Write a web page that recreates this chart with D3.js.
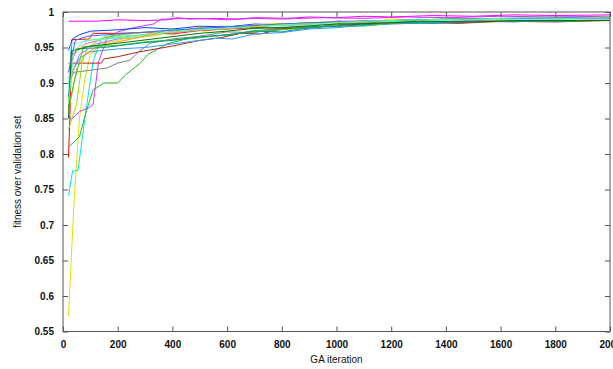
<!DOCTYPE html>
<html><head><meta charset="utf-8">
<script src="https://cdn.jsdelivr.net/npm/d3@7"></script>
<style>body{margin:0;background:#fff}svg{display:block}</style>
</head><body><svg id="c" width="613" height="369"></svg>
<script>
// tick labels
const xTicks = [0,200,400,600,800,1000,1200,1400,1600,1800,2000];
const yTicks = [0.55,0.6,0.65,0.7,0.75,0.8,0.85,0.9,0.95,1];
// series: [GA iteration, fitness over validation set]
const s01=[[20,.987],[120,.987],[200,.989],[300,.988],[380,.989],[420,.992],[460,.99],[560,.991],[640,.99],[700,.992],[820,.991],[900,.993],[1000,.992],[1100,.994],[1200,.993],[1350,.995],[1500,.994],[1650,.996],[1800,.995],[2000,.996]];
const s02=[[20,.572],[40,.73],[60,.85],[80,.905],[100,.94],[140,.955],[220,.962],[320,.966],[450,.975],[520,.973],[600,.98],[700,.978],[800,.984],[900,.982],[1000,.986],[1100,.985],[1200,.99],[1350,.988],[1500,.991],[1650,.989],[1800,.993],[2000,.992]];
const s03=[[20,.741],[35,.776],[55,.777],[80,.85],[110,.93],[140,.963],[220,.968],[300,.966],[400,.976],[500,.974],[600,.98],[700,.977],[800,.983],[880,.979],[950,.98],[1000,.987],[1150,.985],[1300,.99],[1450,.988],[1600,.99],[1750,.992],[2000,.991]];
const s04=[[20,.795],[25,.85],[32,.961],[95,.962],[110,.97],[200,.97],[300,.971],[400,.969],[500,.974],[600,.976],[700,.978],[800,.977],[900,.982],[1000,.984],[1100,.986],[1250,.984],[1400,.988],[1550,.987],[1700,.989],[1850,.988],[2000,.989]];
const s05=[[20,.81],[60,.824],[85,.86],[110,.89],[150,.9],[200,.9],[230,.912],[280,.927],[310,.94],[380,.955],[450,.962],[550,.966],[620,.968],[700,.974],[800,.976],[900,.98],[1000,.979],[1100,.984],[1200,.986],[1300,.988],[1450,.986],[1600,.989],[1800,.988],[2000,.99]];
const s06=[[20,.855],[30,.848],[60,.86],[90,.864],[110,.87],[130,.93],[160,.962],[200,.972],[260,.978],[330,.983],[360,.99],[500,.991],[600,.989],[700,.991],[800,.99],[950,.992],[1100,.991],[1250,.993],[1400,.992],[1600,.994],[1800,.993],[2000,.994]];
const s07=[[20,.9],[40,.915],[160,.921],[200,.928],[245,.932],[280,.945],[318,.956],[400,.962],[500,.966],[600,.972],[700,.971],[800,.978],[900,.977],[1000,.982],[1150,.984],[1300,.986],[1450,.985],[1600,.988],[1800,.989],[2000,.99]];
const s08=[[20,.928],[140,.928],[150,.934],[200,.937],[280,.944],[400,.952],[500,.96],[580,.964],[650,.97],[720,.969],[800,.976],[900,.978],[1000,.981],[1150,.983],[1300,.985],[1450,.984],[1600,.987],[1800,.986],[2000,.988]];
const s09=[[20,.946],[35,.962],[60,.968],[100,.973],[200,.975],[300,.978],[400,.976],[500,.98],[600,.979],[700,.983],[800,.982],[900,.985],[1000,.986],[1150,.987],[1300,.986],[1400,.989],[1550,.988],[1700,.99],[1850,.991],[2000,.991]];
const s10=[[20,.907],[40,.92],[60,.935],[100,.944],[200,.948],[300,.95],[400,.955],[500,.96],[560,.963],[620,.962],[700,.969],[800,.971],[900,.976],[1000,.978],[1100,.981],[1200,.983],[1350,.985],[1500,.987],[1650,.986],[1800,.989],[2000,.99]];
const s11=[[20,.86],[50,.92],[80,.94],[120,.95],[200,.958],[300,.966],[400,.973],[500,.978],[600,.977],[700,.982],[850,.984],[1000,.986],[1150,.988],[1300,.987],[1400,.99],[1550,.989],[1700,.991],[1850,.99],[2000,.992]];
const s12=[[20,.865],[40,.9],[60,.93],[75,.951],[200,.953],[300,.958],[450,.962],[600,.968],[700,.972],[800,.975],[900,.978],[1000,.981],[1100,.98],[1200,.984],[1400,.987],[1550,.986],[1700,.988],[1850,.987],[2000,.989]];
const s13=[[20,.88],[30,.93],[50,.948],[150,.95],[300,.957],[400,.96],[500,.965],[600,.968],[700,.973],[800,.972],[900,.978],[1050,.981],[1200,.985],[1350,.984],[1500,.987],[1600,.988],[1800,.987],[2000,.989]];
const s14=[[20,.835],[50,.87],[70,.93],[90,.95],[150,.965],[250,.97],[400,.975],[500,.974],[600,.979],[700,.981],[800,.984],[950,.983],[1100,.988],[1250,.987],[1400,.989],[1500,.99],[1700,.989],[2000,.991]];
const s15=[[20,.9],[60,.94],[120,.955],[200,.962],[300,.968],[400,.972],[500,.975],[600,.978],[700,.98],[800,.983],[900,.982],[1000,.987],[1200,.988],[1400,.99],[1600,.991],[1800,.99],[2000,.992]];
const s16=[[20,.915],[40,.94],[80,.955],[150,.962],[300,.968],[400,.971],[500,.974],[600,.976],[700,.98],[850,.982],[1000,.985],[1150,.984],[1300,.988],[1500,.987],[1700,.99],[1850,.989],[2000,.99]];
const s17=[[20,.89],[30,.955],[100,.96],[200,.963],[350,.97],[500,.976],[600,.978],[700,.981],[850,.98],[1000,.985],[1200,.987],[1400,.988],[1600,.99],[1800,.989],[2000,.99]];
const s18=[[20,.85],[30,.945],[100,.952],[200,.956],[350,.963],[500,.97],[600,.973],[700,.977],[850,.979],[1000,.983],[1150,.984],[1300,.987],[1500,.986],[1700,.988],[2000,.988]];
const s19=[[20,.915],[45,.96],[90,.966],[200,.969],[350,.973],[500,.977],[600,.979],[700,.981],[850,.984],[1000,.986],[1200,.988],[1400,.99],[1600,.991],[1800,.992],[2000,.992]];
const s20=[[20,.87],[40,.945],[80,.96],[200,.965],[350,.97],[500,.975],[650,.978],[800,.982],[950,.984],[1100,.987],[1300,.989],[1500,.99],[1700,.992],[1850,.991],[2000,.993]];
const seriesList=[s01,s02,s03,s04,s05,s06,s07,s08,s09,s10,s11,s12,s13,s14,s15,s16,s17,s18,s19,s20];
const colors=["#ff00ff","#e0e000","#00e5e5","#ff0000","#22b822","#cc33ff","#808080","#b22222","#0044ff","#3399ff","#ff9900","#33cc33","#009999","#99dd00","#aa77ff","#ff66aa","#66ffff","#007700","#4466ff","#66ff66"];

const svg=d3.select("#c");
const L=63,R=610,T=12,B=331.5;
const x=d3.scaleLinear().domain([0,2000]).range([L,R]);
const y=d3.scaleLinear().domain([0.55,1]).range([B,T]);
const line=d3.line().x(d=>x(d[0])).y(d=>y(d[1]));
const g=svg.append("g");
seriesList.forEach((s,i)=>{
  g.append("path").attr("d",line(s)).attr("fill","none").attr("stroke",colors[i]).attr("stroke-width",1);
});
const ax="#555";
const fmtY=d=>String(+d.toFixed(2));
const fmtX=d=>String(d);
function styleAxis(sel,showLabels){
  sel.select(".domain").remove();
  sel.selectAll("line").attr("stroke",ax);
  sel.selectAll("text").attr("fill","#111").style("font-family","'Liberation Sans',Arial,sans-serif").style("font-size","10px").style("font-weight","bold");
  if(!showLabels) sel.selectAll("text").remove();
}
svg.append("g").attr("transform",`translate(0,${B})`).call(d3.axisBottom(x).tickValues(xTicks).tickFormat(fmtX).tickSizeInner(-5).tickSizeOuter(0).tickPadding(9)).call(s=>styleAxis(s,true));
svg.append("g").attr("transform",`translate(0,${T})`).call(d3.axisTop(x).tickValues(xTicks).tickSizeInner(-5).tickSizeOuter(0)).call(s=>styleAxis(s,false));
svg.append("g").attr("transform",`translate(${L},0)`).call(d3.axisLeft(y).tickValues(yTicks).tickFormat(fmtY).tickSizeInner(-5).tickSizeOuter(0).tickPadding(9)).call(s=>styleAxis(s,true));
svg.append("g").attr("transform",`translate(${R},0)`).call(d3.axisRight(y).tickValues(yTicks).tickSizeInner(-5).tickSizeOuter(0)).call(s=>styleAxis(s,false));
svg.append("rect").attr("x",L).attr("y",T).attr("width",R-L).attr("height",B-T).attr("fill","none").attr("stroke",ax).attr("stroke-width",1);
svg.append("text").attr("x",(L+R)/2).attr("y",363).attr("text-anchor","middle").style("font-family","'Liberation Sans',Arial,sans-serif").style("font-size","10px").attr("fill","#111").text("GA iteration");
svg.append("text").attr("transform",`translate(21,${(T+B)/2}) rotate(-90)`).attr("text-anchor","middle").style("font-family","'Liberation Sans',Arial,sans-serif").style("font-size","10px").attr("fill","#111").text("fitness over validation set");
</script></body></html>
